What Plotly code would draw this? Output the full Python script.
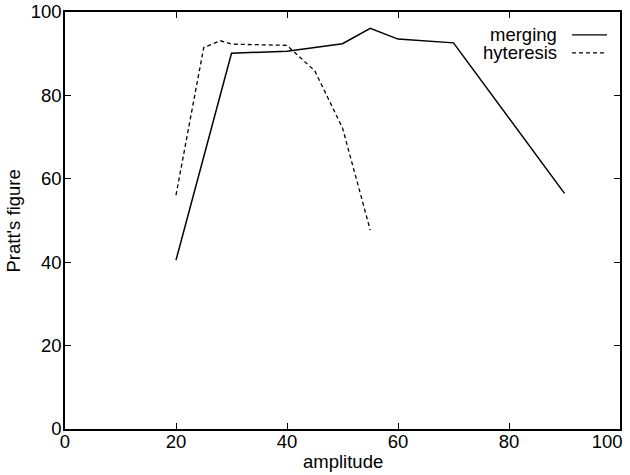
import plotly.graph_objects as go

merging_x = [20, 30, 40, 50, 55, 60, 70, 90]
merging_y = [40.5, 90.1, 90.6, 92.4, 96.1, 93.5, 92.6, 56.5]

hyteresis_x = [20, 25, 28, 30, 40, 45, 50, 55]
hyteresis_y = [56.1, 91.5, 93.1, 92.3, 92.0, 85.9, 72.2, 47.7]

x_ticks = [0, 20, 40, 60, 80, 100]
x_tick_labels = ["0", "20", "40", "60", "80", "100" + "&nbsp;" * 5]
y_ticks = [0, 20, 40, 60, 80, 100]

FONT = "Liberation Sans, Arial, Helvetica, sans-serif"
FS = 18.5

fig = go.Figure()
fig.add_trace(go.Scatter(x=merging_x, y=merging_y, mode="lines", name="merging",
                         line=dict(color="black", width=1.5), showlegend=False))
fig.add_trace(go.Scatter(x=hyteresis_x, y=hyteresis_y, mode="lines", name="hyteresis",
                         line=dict(color="black", width=1.3, dash="4px,3px"), showlegend=False))

# gnuplot-style legend: right-aligned text with line sample on the right
legend_items = [("merging", "solid", 0.945), ("hyteresis", "4px,3px", 0.902)]
for label, dash, yp in legend_items:
    fig.add_annotation(x=0.890, y=yp, xref="paper", yref="paper", text=label,
                       showarrow=False, xanchor="right", yanchor="middle",
                       font=dict(family=FONT, size=FS, color="black"))
    fig.add_shape(type="line", xref="paper", yref="paper", x0=0.9135, x1=0.9766,
                  y0=yp, y1=yp, line=dict(color="black", width=1.3, dash=dash))

# axis titles
fig.add_annotation(x=0.5, y=-0.079, xref="paper", yref="paper", text="amplitude",
                   showarrow=False, xanchor="center", yanchor="middle",
                   font=dict(family=FONT, size=FS, color="black"))
fig.add_annotation(x=-0.0919, y=0.5, xref="paper", yref="paper", text="Pratt's figure",
                   showarrow=False, xanchor="center", yanchor="middle", textangle=-90,
                   font=dict(family=FONT, size=FS, color="black"))

axis_common = dict(
    showgrid=False, zeroline=False, showline=True, linecolor="black", linewidth=1.5,
    mirror="ticks", ticks="inside", ticklen=6, tickwidth=1.2, tickcolor="black",
    tickfont=dict(family=FONT, size=FS, color="black"), automargin=False,
    ticklabeloverflow="allow",
)

fig.update_layout(
    width=630, height=475,
    margin=dict(l=65, r=10, t=12, b=46),
    paper_bgcolor="white", plot_bgcolor="white",
    xaxis=dict(range=[0, 100], tickvals=x_ticks, ticktext=x_tick_labels,
               ticklabelstandoff=-5, **axis_common),
    yaxis=dict(range=[0, 100], tickvals=y_ticks, ticktext=[str(v) for v in y_ticks],
               ticklabelstandoff=-2, **axis_common),
)

fig.write_html("out.html", config={"displayModeBar": False},
               post_script="document.body.style.margin='0';document.body.style.overflow='hidden';")
